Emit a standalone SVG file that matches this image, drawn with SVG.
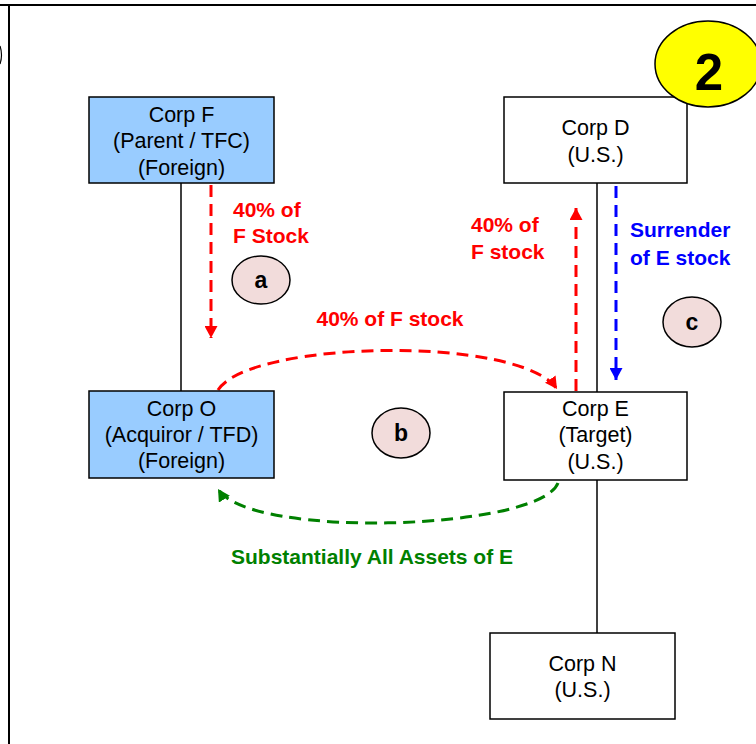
<svg xmlns="http://www.w3.org/2000/svg" width="756" height="744" viewBox="0 0 756 744">
<style>
.box{stroke:#000;stroke-width:1.5}
.blue{fill:#99CCFF}
.white{fill:#fff}
.t{font-family:"Liberation Sans",Arial,sans-serif;font-size:21.5px;fill:#000;text-anchor:middle}
.lb{font-family:"Liberation Sans",Arial,sans-serif;font-size:21px;font-weight:bold}
.circ{fill:#F2DCDB;stroke:#000;stroke-width:1.5}
.ct{font-family:"Liberation Sans",Arial,sans-serif;font-size:23px;font-weight:bold;text-anchor:middle}
.dash{fill:none;stroke-width:3;stroke-dasharray:12 7}
</style>
<defs>
<marker id="ar" viewBox="0 0 12 13" refX="12" refY="6.5" markerWidth="12" markerHeight="13" markerUnits="userSpaceOnUse" orient="auto"><path d="M0,0 L12,6.5 L0,13 z" fill="#FF0000"/></marker>
<marker id="ab" viewBox="0 0 12 13" refX="12" refY="6.5" markerWidth="12" markerHeight="13" markerUnits="userSpaceOnUse" orient="auto"><path d="M0,0 L12,6.5 L0,13 z" fill="#0000FF"/></marker>
<marker id="ag" viewBox="0 0 12 13" refX="12" refY="6.5" markerWidth="12" markerHeight="13" markerUnits="userSpaceOnUse" orient="auto"><path d="M0,0 L12,6.5 L0,13 z" fill="#008000"/></marker>
</defs>
<rect width="756" height="744" fill="#fff"/>
<g id="frame" fill="none" stroke="#000">
<line x1="0" y1="5" x2="756" y2="5" stroke-width="2"/>
<line x1="9" y1="5" x2="9" y2="744" stroke-width="2"/>
<path d="M0,46 Q3,55 0,64" stroke-width="1.2"/>
</g>
<g id="connectors">
<line x1="181" y1="183" x2="181" y2="391" stroke="#000" stroke-width="1.5"/>
<line x1="597" y1="183" x2="597" y2="392" stroke="#000" stroke-width="1.5"/>
<line x1="597" y1="480" x2="597" y2="633" stroke="#000" stroke-width="1.5"/>
<line class="dash" x1="211" y1="185" x2="211" y2="338" stroke="#FF0000" marker-end="url(#ar)"/>
<line class="dash" x1="576" y1="391" x2="576" y2="208" stroke="#FF0000" marker-end="url(#ar)"/>
<line class="dash" x1="616" y1="186" x2="616" y2="380" stroke="#0000FF" marker-end="url(#ab)"/>
<path class="dash" d="M218,390 C250,340 520,335 557,389" stroke="#FF0000" marker-end="url(#ar)"/>
<path class="dash" d="M558,483 C540,530 250,540 218,489" stroke="#008000" marker-end="url(#ag)"/>
</g>
<g id="labels">
<text class="lb" fill="#FF0000" x="233" y="217">40% of</text>
<text class="lb" fill="#FF0000" x="233" y="243">F Stock</text>
<text class="lb" fill="#FF0000" x="471" y="232">40% of</text>
<text class="lb" fill="#FF0000" x="471" y="259">F stock</text>
<text class="lb" fill="#0000FF" x="630" y="237">Surrender</text>
<text class="lb" fill="#0000FF" x="630" y="265">of E stock</text>
<text class="lb" fill="#FF0000" x="390" y="326" text-anchor="middle">40% of F stock</text>
<text class="lb" fill="#008000" x="372" y="564" text-anchor="middle">Substantially All Assets of E</text>
</g>
<g id="corpF">
<rect class="box blue" x="89" y="97" width="185" height="86"/>
<text class="t" x="181.5" y="122">Corp F</text>
<text class="t" x="181.5" y="148">(Parent / TFC)</text>
<text class="t" x="181.5" y="175">(Foreign)</text>
</g>
<g id="corpD">
<rect class="box white" x="504" y="97" width="183" height="86"/>
<text class="t" x="595.5" y="135">Corp D</text>
<text class="t" x="595.5" y="162">(U.S.)</text>
</g>
<g id="corpO">
<rect class="box blue" x="89" y="391" width="185" height="87"/>
<text class="t" x="181.5" y="416">Corp O</text>
<text class="t" x="181.5" y="442">(Acquiror / TFD)</text>
<text class="t" x="181.5" y="468">(Foreign)</text>
</g>
<g id="corpE">
<rect class="box white" x="504" y="392" width="183" height="88"/>
<text class="t" x="595.5" y="416">Corp E</text>
<text class="t" x="595.5" y="442">(Target)</text>
<text class="t" x="595.5" y="469">(U.S.)</text>
</g>
<g id="corpN">
<rect class="box white" x="490" y="633" width="185" height="86"/>
<text class="t" x="582.5" y="671">Corp N</text>
<text class="t" x="582.5" y="697">(U.S.)</text>
</g>
<g id="stepA">
<ellipse class="circ" cx="261" cy="280" rx="29" ry="24"/>
<text class="ct" x="261" y="288">a</text>
</g>
<g id="stepB">
<ellipse class="circ" cx="401" cy="433" rx="29" ry="25"/>
<text class="ct" x="401" y="441">b</text>
</g>
<g id="stepC">
<ellipse class="circ" cx="692" cy="322" rx="29" ry="25"/>
<text class="ct" x="692" y="330">c</text>
</g>
<g id="badge2">
<ellipse cx="708" cy="64" rx="53" ry="43" fill="#FFFF00" stroke="#000" stroke-width="1.5"/>
<text x="709" y="90" font-family="'Liberation Sans',Arial,sans-serif" font-size="51" font-weight="bold" text-anchor="middle">2</text>
</g>
</svg>
